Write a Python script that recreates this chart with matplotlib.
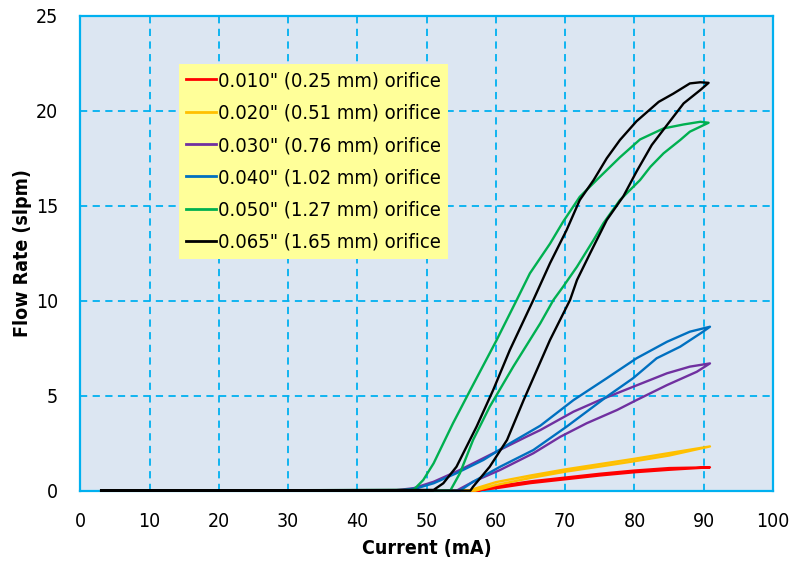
import matplotlib
matplotlib.use("Agg")
import matplotlib.pyplot as plt

plt.rcParams['font.family'] = ['DejaVu Sans']
plt.rcParams['font.stretch'] = 'condensed'

# --- data: each orifice traced as a hysteresis loop (up branch, then back down) ---
labels = ['0.010" (0.25 mm) orifice', '0.020" (0.51 mm) orifice',
          '0.030" (0.76 mm) orifice', '0.040" (1.02 mm) orifice',
          '0.050" (1.27 mm) orifice', '0.065" (1.65 mm) orifice']
colors = ['#ff0000', '#ffc000', '#7030a0', '#0070c0', '#00b050', '#000000']

red_x = [3, 57, 60, 65, 70, 75, 80, 85, 90.9, 85, 80, 75, 70, 65, 60, 57.5, 3]
red_y = [0, 0, 0.13, 0.4, 0.6, 0.8, 0.97, 1.1, 1.23, 1.19, 1.06, 0.89, 0.69, 0.49, 0.23, 0, 0]

orange_x = [3, 57, 60, 65, 70, 75, 80, 85, 90.9, 85, 80, 75, 70, 65, 60, 56, 3]
orange_y = [0, 0, 0.3, 0.67, 1.0, 1.27, 1.55, 1.85, 2.33, 1.98, 1.68, 1.4, 1.12, 0.8, 0.45, 0, 0]

purple_x = [3, 54.3, 56.7, 60.6, 65.4, 69.3, 73.1, 77.5, 80.3, 84.7, 89.0, 90.9,
            88.0, 84.7, 79.8, 75.0, 71.2, 66.4, 64.4, 59.6, 54.8, 51.0, 48.1, 45, 3]
purple_y = [0, 0, 0.47, 1.09, 1.97, 2.84, 3.55, 4.25, 4.77, 5.56, 6.26, 6.7,
            6.53, 6.18, 5.47, 4.77, 4.16, 3.19, 2.84, 1.97, 1.09, 0.47, 0.13, 0, 0]

blue_x = [3, 54.8, 56.7, 60.6, 65.4, 70.2, 76.0, 79.8, 83.2, 86.6, 89.9, 90.9,
          88.0, 84.7, 80.3, 76.0, 71.2, 66.4, 62.0, 58.2, 54.3, 51.0, 48.6, 46, 3]
blue_y = [0, 0, 0.47, 1.26, 2.14, 3.37, 4.95, 5.92, 6.97, 7.58, 8.37, 8.63,
          8.37, 7.84, 6.97, 5.92, 4.77, 3.42, 2.49, 1.62, 0.92, 0.39, 0.13, 0, 0]

green_x = [3, 53.4, 54.8, 56.7, 59.1, 62.5, 66.4, 68.3, 69.7, 71.7, 74.1, 75.5, 77.9,
           80.8, 82.3, 84.2, 86.6, 88.0, 90.7,
           89.5, 87.1, 84.2, 80.8, 77.9, 74.8, 72.1, 69.7, 67.8, 64.9, 63.0, 60.1,
           56.3, 53.8, 51.0, 49.5, 48.1, 3]
green_y = [0, 0, 0.92, 2.67, 4.42, 6.53, 8.81, 10.04, 10.74, 11.79, 13.2, 14.07, 15.3,
           16.35, 17.05, 17.76, 18.46, 18.9, 19.37,
           19.42, 19.28, 19.07, 18.49, 17.55, 16.45, 15.47, 14.16, 13.0, 11.44, 10.04, 7.93,
           5.3, 3.55, 1.44, 0.56, 0.04, 0]

black_x = [3, 56.3, 56.7, 59.1, 61.6, 64.0, 67.8, 70.7, 71.7, 73.6, 76.0, 78.4, 80.3,
           82.5, 84.7, 87.1, 89.5, 90.7,
           89.5, 88.0, 85.6, 83.5, 80.3, 77.9, 76.0, 74.1, 72.1, 70.2, 67.8, 65.4,
           62.0, 59.6, 57.2, 54.3, 52.4, 51.0, 3]
black_y = [0, 0, 0.21, 1.26, 2.67, 4.77, 7.93, 10.04, 11.09, 12.5, 14.25, 15.5, 16.8,
           18.2, 19.25, 20.39, 21.09, 21.47,
           21.5, 21.44, 20.9, 20.47, 19.45, 18.46, 17.5, 16.35, 15.3, 13.72, 11.97, 10.04,
           7.4, 5.3, 3.37, 1.26, 0.39, 0.04, 0]

series = [(red_x, red_y), (orange_x, orange_y), (purple_x, purple_y),
          (blue_x, blue_y), (green_x, green_y), (black_x, black_y)]

fig = plt.figure(figsize=(7.92, 5.64), dpi=100)
ax = fig.add_axes([0.1015, 0.130, 0.8745, 0.842])
ax.set_facecolor('#dce6f2')

for (xs, ys), c, lab in zip(series, colors, labels):
    ax.plot(xs, ys, color=c, lw=1.7, label=lab, solid_joinstyle='round',
            clip_on=False, zorder=3)

ax.set_xlim(0, 100)
ax.set_ylim(0, 25)
ax.set_xticks(range(0, 101, 10))
ax.set_yticks(range(0, 26, 5))
ax.grid(True, color='#00b0f0', linestyle=(0, (4, 3)), lw=1.3)
ax.set_axisbelow(True)
for sp in ax.spines.values():
    sp.set_color('#00b0f0')
    sp.set_linewidth(1.6)
    sp.set_zorder(2)
ax.tick_params(length=0, labelsize=14, pad=16)
ax.tick_params(axis='x', pad=15)

ax.set_xlabel('Current (mA)', fontsize=14, fontweight='bold', labelpad=6)
ax.set_ylabel('Flow Rate (slpm)', fontsize=14, fontweight='bold', labelpad=3)

leg = ax.legend(loc='upper left', bbox_to_anchor=(0.1425, 0.898), fontsize=14.5,
                frameon=True, fancybox=False, framealpha=1, handlelength=1.45,
                handletextpad=0.1, labelspacing=0.66, borderpad=0.36,
                borderaxespad=0)
leg.get_frame().set_facecolor('#ffff99')
leg.get_frame().set_edgecolor('none')
leg.set_zorder(4)
for h in leg.get_lines():
    h.set_linewidth(2)

plt.savefig('out.png', dpi=100)
